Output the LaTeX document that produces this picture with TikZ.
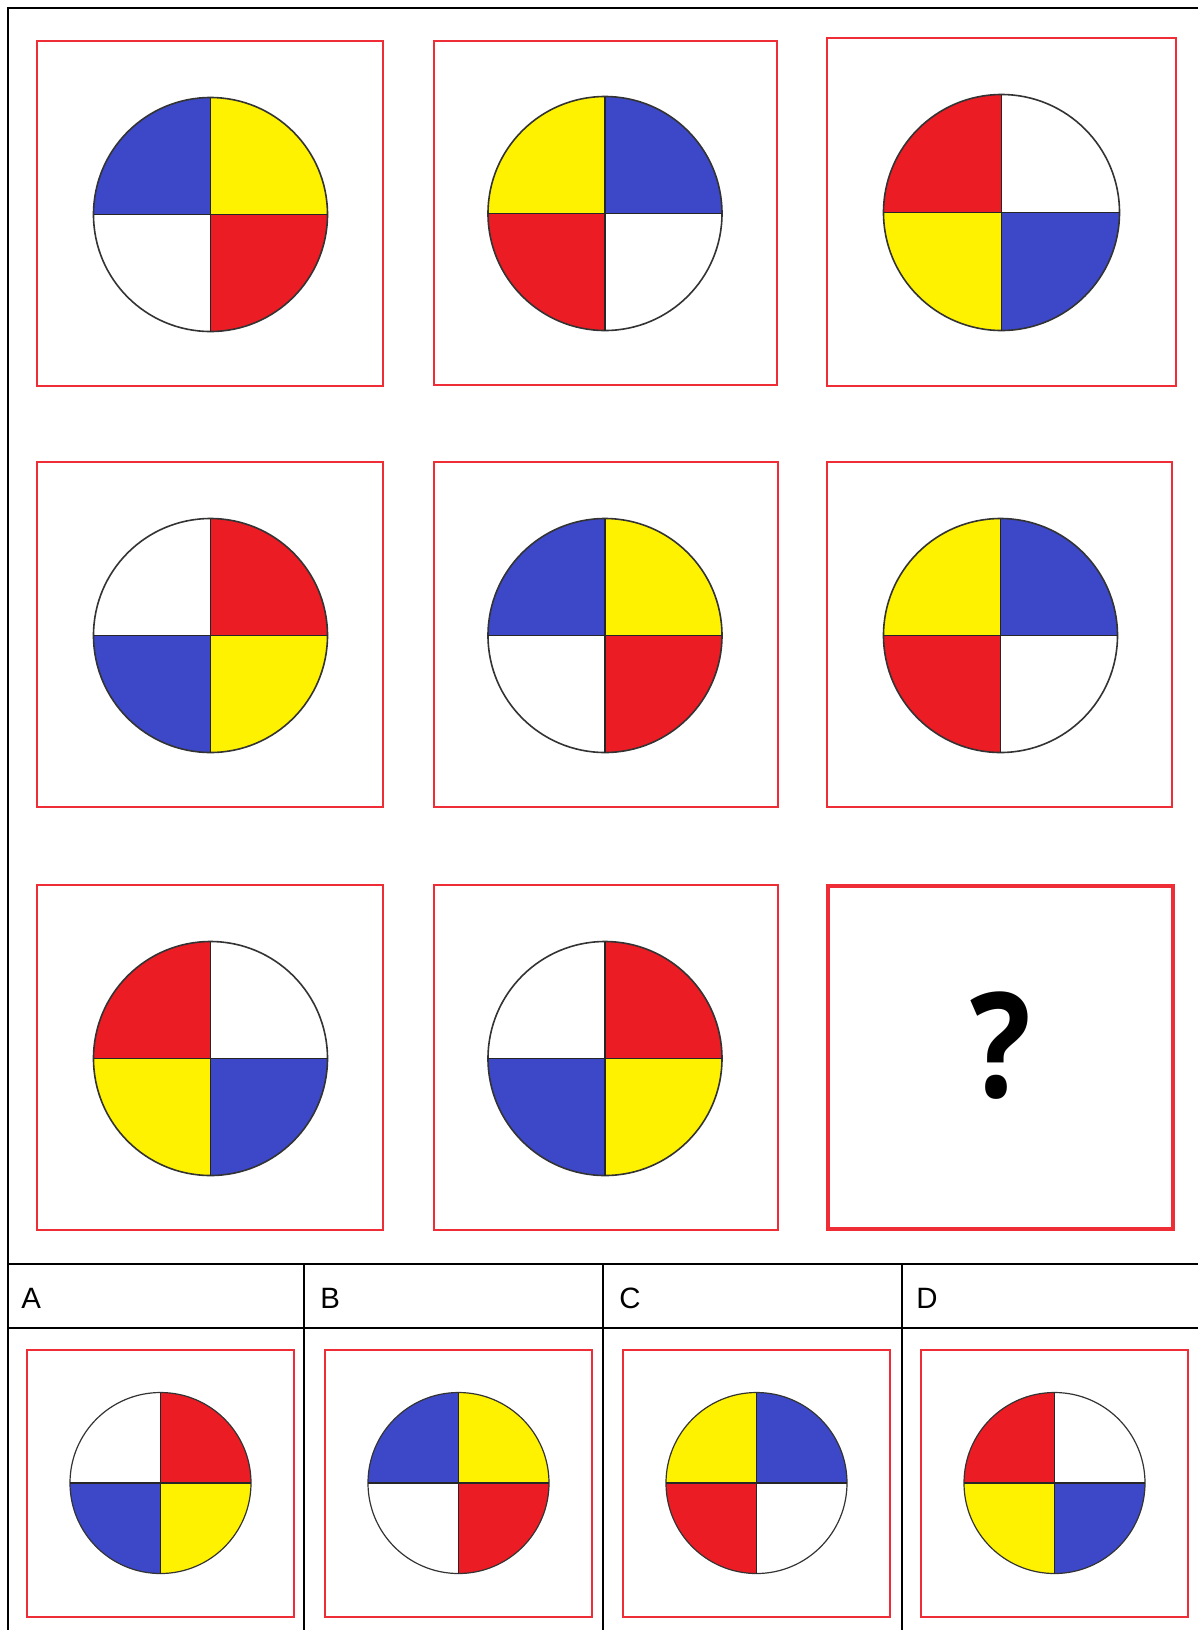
\documentclass[tikz,border=0pt]{standalone}
\usepackage{fontspec}
\setmainfont{Liberation Sans}
\newfontfamily\qfont{Open Sans}
\definecolor{pblue}{RGB}{60,72,200}
\definecolor{pyellow}{RGB}{255,242,0}
\definecolor{pred}{RGB}{236,28,36}
\definecolor{boxred}{RGB}{238,45,55}
\newcommand\quadpie[8]{% x, y, r, TL, TR, BL, BR, linewidth
  \fill[#5] (#1,#2) -- ++(#3,0) arc[start angle=0,end angle=-90,radius=#3] -- cycle;
  \fill[#4] (#1,#2) -- ++(-#3,0) arc[start angle=180,end angle=270,radius=#3] -- cycle;
  \fill[#6] (#1,#2) -- ++(-#3,0) arc[start angle=180,end angle=90,radius=#3] -- cycle;
  \fill[#7] (#1,#2) -- ++(#3,0) arc[start angle=0,end angle=90,radius=#3] -- cycle;
  \draw[line width=#8, black!80] (#1,#2) circle[radius=#3];
  \draw[line width=#8, black!85] (#1-#3,#2) -- (#1+#3,#2);
  \draw[line width=#8, black!85] (#1,#2-#3) -- (#1,#2+#3);
}
\begin{document}
\begin{tikzpicture}[x=0.5pt,y=-0.5pt,
  redbox/.style={draw=boxred,line width=1.1pt},
  frameline/.style={draw=black,line width=1.1pt},
  lbl/.style={anchor=base west,inner sep=0pt,font=\fontsize{14.7}{16}\selectfont}]
\useasboundingbox[fill=white] (0,0) rectangle (1198,1630);
% outer frame
\draw[frameline] (8,1632) -- (8,8) -- (1200,8);
% main grid boxes
\draw[redbox] (37,41) rectangle (383,386);
\draw[redbox] (434,41) rectangle (777,385);
\draw[redbox] (827,38) rectangle (1176,386);
\draw[redbox] (37,462) rectangle (383,807);
\draw[redbox] (434,462) rectangle (778,807);
\draw[redbox] (827,462) rectangle (1172,807);
\draw[redbox] (37,885) rectangle (383,1230);
\draw[redbox] (434,885) rectangle (778,1230);
\draw[draw=boxred,line width=1.8pt] (828,886) rectangle (1173,1229);
% pies
\quadpie{210.5}{214.5}{117}{pblue}{pyellow}{white}{pred}{0.8pt}
\quadpie{605}{213.5}{117}{pyellow}{pblue}{pred}{white}{0.8pt}
\quadpie{1001.5}{212.5}{118}{pred}{white}{pyellow}{pblue}{0.8pt}
\quadpie{210.5}{635.5}{117}{white}{pred}{pblue}{pyellow}{0.8pt}
\quadpie{605}{635.5}{117}{pblue}{pyellow}{white}{pred}{0.8pt}
\quadpie{1000.5}{635.5}{117}{pyellow}{pblue}{pred}{white}{0.8pt}
\quadpie{210.5}{1058.5}{117}{pred}{white}{pyellow}{pblue}{0.8pt}
\quadpie{605}{1058.5}{117}{white}{pred}{pblue}{pyellow}{0.8pt}
\node[anchor=base,inner sep=0pt,font=\qfont\bfseries\fontsize{73}{76}\selectfont] (q) at (1001,1097) {\scalebox{0.87}[1]{?}};
% table
\draw[frameline] (8,1264) -- (1200,1264);
\draw[frameline] (8,1328) -- (1200,1328);
\draw[frameline] (304,1264) -- (304,1632);
\draw[frameline] (603,1264) -- (603,1632);
\draw[frameline] (902,1264) -- (902,1632);
\node[lbl] (la) at (21,1308) {A};
\node[lbl] (lb) at (320,1308) {B};
\node[lbl] (lc) at (619,1308) {C};
\node[lbl] (ld) at (916,1308) {D};
% options
\draw[redbox] (27,1350) rectangle (294,1617);
\draw[redbox] (325,1350) rectangle (592,1617);
\draw[redbox] (623,1350) rectangle (890,1617);
\draw[redbox] (921,1350) rectangle (1188,1617);
\quadpie{160.5}{1483}{90.5}{white}{pred}{pblue}{pyellow}{0.6pt}
\quadpie{458.5}{1483}{90.5}{pblue}{pyellow}{white}{pred}{0.6pt}
\quadpie{756.5}{1483}{90.5}{pyellow}{pblue}{pred}{white}{0.6pt}
\quadpie{1054.5}{1483}{90.5}{pred}{white}{pyellow}{pblue}{0.6pt}
\end{tikzpicture}
\end{document}
